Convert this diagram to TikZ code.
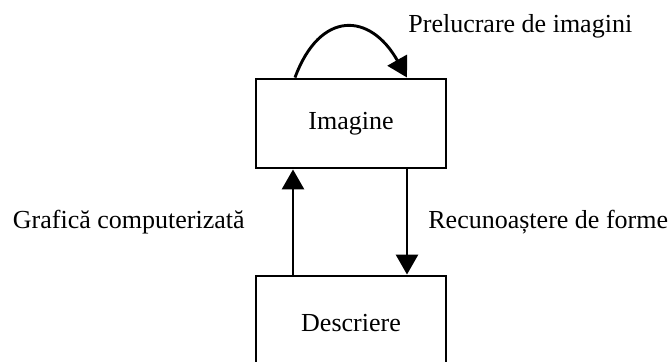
\documentclass[tikz,border=0pt]{standalone}
\usepackage{fontspec}
\setmainfont{Liberation Serif}
\usetikzlibrary{arrows.meta}
\begin{document}
\begin{tikzpicture}[x=0.5pt,y=-0.5pt,
  box/.style={draw,line width=1.45pt,rectangle,inner sep=0pt,font=\fontsize{13}{15}\selectfont},
  arr/.style={line width=1.45pt,-{Triangle[length=10pt,width=11pt]}},
  lbl/.style={inner sep=0pt,font=\fontsize{13}{15}\selectfont}]
\clip (0,0) rectangle (670,362);
\node[box,minimum width=95pt,minimum height=44.5pt] (img) at (351,123.5) {Imagine};
\node[box,minimum width=95pt,minimum height=47pt] (desc) at (351,323) {Descriere};
\draw[arr] ([xshift=-29pt]desc.north) -- ([xshift=-29pt]img.south);
\draw[arr] ([xshift=28pt]img.south) -- ([xshift=28pt]desc.north);
\coordinate (cs) at ([xshift=-28pt]img.north);
\coordinate (ce) at ([xshift=28pt]img.north);
\draw[arr] (cs) .. controls (320,10) and (370,12) .. (ce);
\node[lbl,anchor=west] (pl) at (408,26) {Prelucrare de imagini};
\node[lbl,anchor=west] (rf) at (428,222) {Recunoaștere de forme};
\node[lbl,anchor=east] (gc) at (245,222) {Grafică computerizată};
\end{tikzpicture}
\end{document}
